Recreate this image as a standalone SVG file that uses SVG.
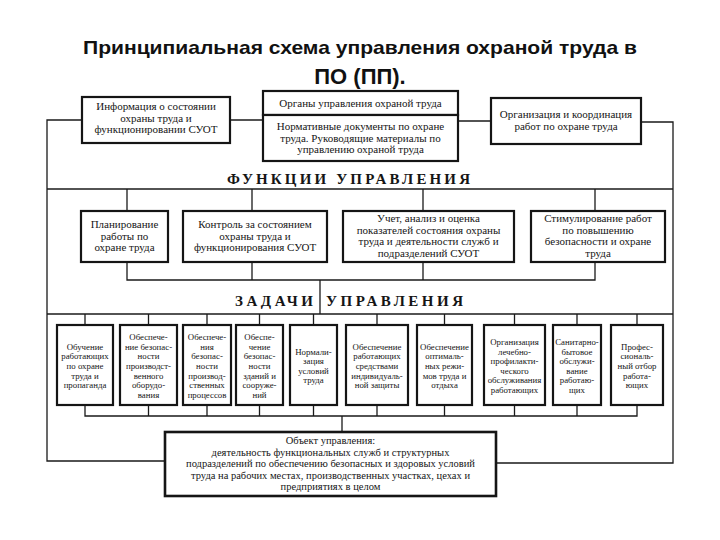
<svg xmlns="http://www.w3.org/2000/svg" width="720" height="540" viewBox="0 0 720 540">
<style>
.bg{fill:#fff}
.box{fill:#fff;stroke:#151515;stroke-width:2.2}
.ln{fill:none;stroke:#1a1a1a;stroke-width:1.3}
.t{font-family:"Liberation Serif","DejaVu Serif","Times New Roman",serif;fill:#151515;text-anchor:middle}
.s11{font-size:11px}
.s10{font-size:10.5px}
.s9{font-size:8.8px}
.hd{font-family:"Liberation Serif","DejaVu Serif","Times New Roman",serif;font-weight:bold;font-size:15px;fill:#151515}
.title{font-family:"Liberation Sans",Arial,sans-serif;font-weight:bold;fill:#111;text-anchor:middle}
</style>
<rect class="bg" width="720" height="540"/>

<text class="title" x="360" y="54" font-size="19" textLength="554" lengthAdjust="spacingAndGlyphs">Принципиальная схема управления охраной труда в</text>
<text class="title" x="360" y="84" font-size="22">ПО (ПП).</text>

<g id="connectors">
  <polyline class="ln" points="82,120 47,120 47,461 165,461"/>
  <line class="ln" x1="230" y1="120" x2="263" y2="120"/>
  <line class="ln" x1="458" y1="121" x2="491" y2="121"/>
  <polyline class="ln" points="641,122 673,122 673,463 496,463"/>
  <line class="ln" x1="47" y1="189" x2="673" y2="189"/>
  <line class="ln" x1="127" y1="189" x2="127" y2="211"/>
  <line class="ln" x1="252" y1="189" x2="252" y2="211"/>
  <line class="ln" x1="423" y1="189" x2="423" y2="211"/>
  <line class="ln" x1="595" y1="189" x2="595" y2="211"/>
  <polyline class="ln" points="127,262 127,280 595,280 595,262"/>
  <line class="ln" x1="252" y1="262" x2="252" y2="280"/>
  <line class="ln" x1="423" y1="262" x2="423" y2="280"/>
  <line class="ln" x1="320" y1="280" x2="320" y2="314"/>
  <line class="ln" x1="47" y1="314" x2="673" y2="314"/>
  <line class="ln" x1="85" y1="314" x2="85" y2="325"/>
  <line class="ln" x1="148.5" y1="314" x2="148.5" y2="325"/>
  <line class="ln" x1="207" y1="314" x2="207" y2="325"/>
  <line class="ln" x1="259.5" y1="314" x2="259.5" y2="325"/>
  <line class="ln" x1="313.5" y1="314" x2="313.5" y2="325"/>
  <line class="ln" x1="377" y1="314" x2="377" y2="325"/>
  <line class="ln" x1="444.5" y1="314" x2="444.5" y2="325"/>
  <line class="ln" x1="514.5" y1="314" x2="514.5" y2="325"/>
  <line class="ln" x1="577" y1="314" x2="577" y2="325"/>
  <line class="ln" x1="637" y1="314" x2="637" y2="325"/>
  <polyline class="ln" points="85,405 85,416 637,416 637,405"/>
  <line class="ln" x1="148.5" y1="405" x2="148.5" y2="416"/>
  <line class="ln" x1="207" y1="405" x2="207" y2="416"/>
  <line class="ln" x1="259.5" y1="405" x2="259.5" y2="416"/>
  <line class="ln" x1="313.5" y1="405" x2="313.5" y2="416"/>
  <line class="ln" x1="377" y1="405" x2="377" y2="416"/>
  <line class="ln" x1="444.5" y1="405" x2="444.5" y2="416"/>
  <line class="ln" x1="514.5" y1="405" x2="514.5" y2="416"/>
  <line class="ln" x1="577" y1="405" x2="577" y2="416"/>
  <line class="ln" x1="342" y1="416" x2="342" y2="432"/>
</g>

<text class="hd" x="227" y="184" textLength="243" lengthAdjust="spacing">ФУНКЦИИ УПРАВЛЕНИЯ</text>
<text class="hd" x="235" y="306" textLength="78" lengthAdjust="spacing">ЗАДАЧИ</text>
<text class="hd" x="326" y="306" textLength="137" lengthAdjust="spacing">УПРАВЛЕНИЯ</text>

<g id="info">
  <rect class="box" x="82" y="97" width="148" height="46"/>
  <text class="t s11" x="156" y="110">Информация о состоянии<tspan x="156" dy="11.5">охраны труда и</tspan><tspan x="156" dy="11.5">функционировании СУОТ</tspan></text>
</g>
<g id="organs">
  <rect class="box" x="263" y="91" width="195" height="24"/>
  <text class="t s11" x="360.5" y="107">Органы управления охраной труда</text>
</g>
<g id="docs">
  <rect class="box" x="263" y="115" width="195" height="46"/>
  <text class="t s11" x="360.5" y="130">Нормативные документы по охране<tspan x="360.5" dy="11.5">труда. Руководящие  материалы по</tspan><tspan x="360.5" dy="11.5">управлению охраной труда</tspan></text>
</g>
<g id="org">
  <rect class="box" x="491" y="98" width="150" height="46"/>
  <text class="t s11" x="566" y="118">Организация и координация<tspan x="566" dy="11.5">работ по охране труда</tspan></text>
</g>

<g id="f1">
  <rect class="box" x="81" y="211" width="87" height="51"/>
  <text class="t s11" x="124.5" y="228">Планирование<tspan x="124.5" dy="11.5">работы по</tspan><tspan x="124.5" dy="11.5">охране труда</tspan></text>
</g>
<g id="f2">
  <rect class="box" x="183" y="211" width="144" height="51"/>
  <text class="t s11" x="255" y="228">Контроль за состоянием<tspan x="255" dy="11.5">охраны труда и</tspan><tspan x="255" dy="11.5">функционирования СУОТ</tspan></text>
</g>
<g id="f3">
  <rect class="box" x="343" y="211" width="171" height="51"/>
  <text class="t s11" x="428.5" y="222">Учет, анализ и оценка<tspan x="428.5" dy="11.5">показателей состояния охраны</tspan><tspan x="428.5" dy="11.5">труда и деятельности служб и</tspan><tspan x="428.5" dy="11.5">подразделений СУОТ</tspan></text>
</g>
<g id="f4">
  <rect class="box" x="531" y="211" width="134" height="51"/>
  <text class="t s11" x="598" y="222">Стимулирование работ<tspan x="598" dy="11.5">по повышению</tspan><tspan x="598" dy="11.5">безопасности и охране</tspan><tspan x="598" dy="11.5">труда</tspan></text>
</g>

<g id="t1">
  <rect class="box" x="57" y="325" width="56" height="80"/>
  <text class="t s9" x="85" y="349.8">Обучение<tspan x="85" dy="9.6">работающих</tspan><tspan x="85" dy="9.6">по охране</tspan><tspan x="85" dy="9.6">труда и</tspan><tspan x="85" dy="9.6">пропаганда</tspan></text>
</g>
<g id="t2">
  <rect class="box" x="120" y="325" width="57" height="80"/>
  <text class="t s9" x="148.5" y="340.2">Обеспече-<tspan x="148.5" dy="9.6">ние безопас-</tspan><tspan x="148.5" dy="9.6">ности</tspan><tspan x="148.5" dy="9.6">производст-</tspan><tspan x="148.5" dy="9.6">венного</tspan><tspan x="148.5" dy="9.6">оборудо-</tspan><tspan x="148.5" dy="9.6">вания</tspan></text>
</g>
<g id="t3">
  <rect class="box" x="183" y="325" width="48" height="80"/>
  <text class="t s9" x="207" y="340.2">Обеспече-<tspan x="207" dy="9.6">ния</tspan><tspan x="207" dy="9.6">безопас-</tspan><tspan x="207" dy="9.6">ности</tspan><tspan x="207" dy="9.6">производ-</tspan><tspan x="207" dy="9.6">ственных</tspan><tspan x="207" dy="9.6">процессов</tspan></text>
</g>
<g id="t4">
  <rect class="box" x="236" y="325" width="47" height="80"/>
  <text class="t s9" x="259.5" y="340.2">Обеспе-<tspan x="259.5" dy="9.6">чение</tspan><tspan x="259.5" dy="9.6">безопас-</tspan><tspan x="259.5" dy="9.6">ности</tspan><tspan x="259.5" dy="9.6">зданий и</tspan><tspan x="259.5" dy="9.6">сооруже-</tspan><tspan x="259.5" dy="9.6">ний</tspan></text>
</g>
<g id="t5">
  <rect class="box" x="290" y="325" width="47" height="80"/>
  <text class="t s9" x="313.5" y="354.6">Нормали-<tspan x="313.5" dy="9.6">зация</tspan><tspan x="313.5" dy="9.6">условий</tspan><tspan x="313.5" dy="9.6">труда</tspan></text>
</g>
<g id="t6">
  <rect class="box" x="346" y="325" width="62" height="80"/>
  <text class="t s9" x="377" y="349.8">Обеспечение<tspan x="377" dy="9.6">работающих</tspan><tspan x="377" dy="9.6">средствами</tspan><tspan x="377" dy="9.6">индивидуаль-</tspan><tspan x="377" dy="9.6">ной защиты</tspan></text>
</g>
<g id="t7">
  <rect class="box" x="417" y="325" width="55" height="80"/>
  <text class="t s9" x="444.5" y="349.8">Обеспечение<tspan x="444.5" dy="9.6">оптималь-</tspan><tspan x="444.5" dy="9.6">ных режи-</tspan><tspan x="444.5" dy="9.6">мов труда и</tspan><tspan x="444.5" dy="9.6">отдыха</tspan></text>
</g>
<g id="t8">
  <rect class="box" x="484" y="325" width="61" height="80"/>
  <text class="t s9" x="514.5" y="345">Организация<tspan x="514.5" dy="9.6">лечебно-</tspan><tspan x="514.5" dy="9.6">профилакти-</tspan><tspan x="514.5" dy="9.6">ческого</tspan><tspan x="514.5" dy="9.6">обслуживания</tspan><tspan x="514.5" dy="9.6">работающих</tspan></text>
</g>
<g id="t9">
  <rect class="box" x="553" y="325" width="48" height="80"/>
  <text class="t s9" x="577" y="345">Санитарно-<tspan x="577" dy="9.6">бытовое</tspan><tspan x="577" dy="9.6">обслужи-</tspan><tspan x="577" dy="9.6">вание</tspan><tspan x="577" dy="9.6">работаю-</tspan><tspan x="577" dy="9.6">щих</tspan></text>
</g>
<g id="t10">
  <rect class="box" x="611" y="325" width="52" height="80"/>
  <text class="t s9" x="637" y="349.8">Профес-<tspan x="637" dy="9.6">сиональ-</tspan><tspan x="637" dy="9.6">ный отбор</tspan><tspan x="637" dy="9.6">работа-</tspan><tspan x="637" dy="9.6">ющих</tspan></text>
</g>

<g id="object">
  <rect class="box" x="165" y="432" width="331" height="64" style="stroke-width:2.6"/>
  <text class="t s10" x="330.5" y="444">Объект управления:<tspan x="330.5" dy="11.6">деятельность функциональных служб и структурных</tspan><tspan x="330.5" dy="11.6">подразделений по обеспечению безопасных и здоровых условий</tspan><tspan x="330.5" dy="11.6">труда на рабочих местах, производственных участках, цехах и</tspan><tspan x="330.5" dy="11.6">предприятиях в целом</tspan></text>
</g>
</svg>
